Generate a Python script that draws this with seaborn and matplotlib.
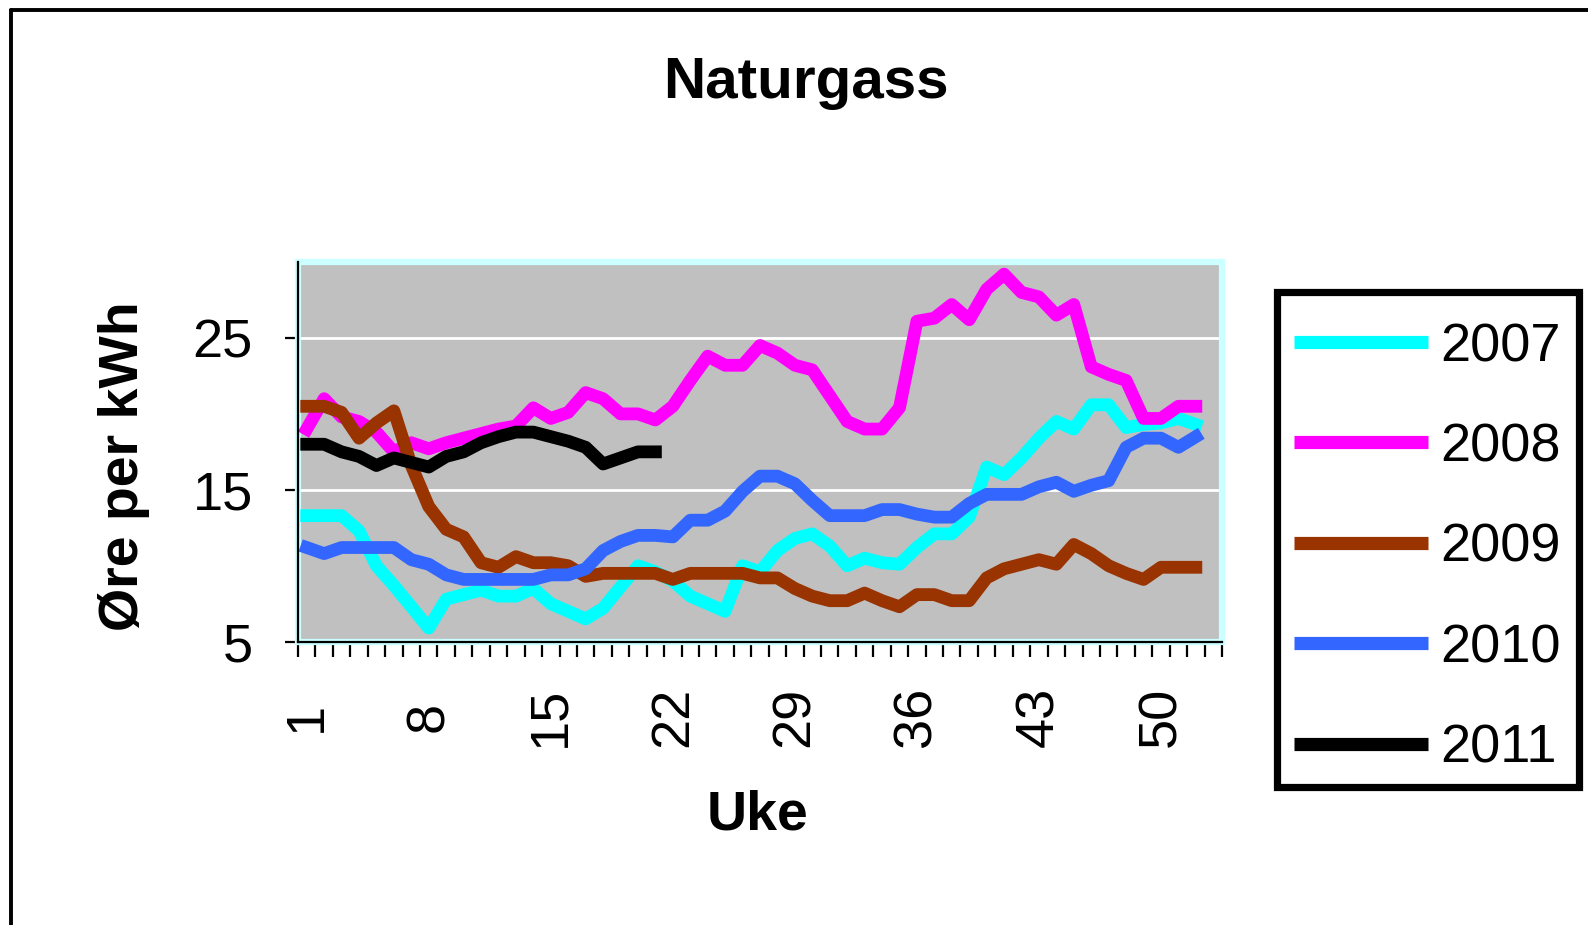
import matplotlib
matplotlib.use("Agg")
import matplotlib.pyplot as plt
from matplotlib.lines import Line2D
from matplotlib.patches import Rectangle
import seaborn as sns
import pandas as pd
import numpy as np

# ---- data (øre per kWh, by week) ----
aar = ["2007", "2008", "2009", "2010", "2011"]
pris_2007 = [13.3, 13.3, 13.3, 12.3, 10.0, 8.7, 7.3, 5.9, 7.8, 8.1, 8.4, 8.0, 8.0, 8.5, 7.5, 7.0, 6.5,
             7.2, 8.6, 10.0, 9.6, 9.0, 8.0, 7.5, 7.0, 10.0, 9.6, 11.0, 11.8, 12.1, 11.3, 10.0, 10.5, 10.2,
             10.1, 11.2, 12.1, 12.1, 13.2, 16.5, 16.0, 17.1, 18.4, 19.5, 19.0, 20.6, 20.6, 19.1, 19.3,
             19.4, 19.7, 19.3]
pris_2008 = [19.0, 21.0, 19.8, 19.5, 18.8, 17.5, 18.1, 17.7, 18.1, 18.4, 18.7, 19.0, 19.2, 20.4, 19.7,
             20.1, 21.4, 21.0, 20.0, 20.0, 19.6, 20.5, 22.2, 23.8, 23.2, 23.2, 24.5, 24.0, 23.2, 22.9,
             21.2, 19.5, 19.0, 19.0, 20.4, 26.1, 26.3, 27.2, 26.2, 28.2, 29.2, 28.0, 27.7, 26.5, 27.2,
             23.1, 22.6, 22.2, 19.7, 19.7, 20.5, 20.5]
pris_2009 = [20.5, 20.5, 20.1, 18.4, 19.4, 20.2, 16.6, 13.9, 12.4, 11.9, 10.2, 9.9, 10.6, 10.2, 10.2,
             10.0, 9.3, 9.5, 9.5, 9.5, 9.5, 9.1, 9.5, 9.5, 9.5, 9.5, 9.2, 9.2, 8.5, 8.0, 7.7, 7.7, 8.2,
             7.7, 7.3, 8.1, 8.1, 7.7, 7.7, 9.2, 9.8, 10.1, 10.4, 10.1, 11.4, 10.8, 10.0, 9.5, 9.1, 9.9,
             9.9, 9.9]
pris_2010 = [11.2, 10.8, 11.2, 11.2, 11.2, 11.2, 10.4, 10.1, 9.4, 9.1, 9.1, 9.1, 9.1, 9.1, 9.4, 9.4,
             9.8, 11.0, 11.6, 12.0, 12.0, 11.9, 13.0, 13.0, 13.6, 14.9, 15.9, 15.9, 15.4, 14.3, 13.3,
             13.3, 13.3, 13.7, 13.7, 13.4, 13.2, 13.2, 14.1, 14.7, 14.7, 14.7, 15.2, 15.5, 14.9, 15.3,
             15.6, 17.8, 18.4, 18.4, 17.8, 18.5]
pris_2011 = [18.0, 18.0, 17.5, 17.2, 16.6, 17.1, 16.8, 16.5, 17.2, 17.5, 18.1, 18.5, 18.8, 18.8, 18.5,
             18.2, 17.8, 16.7, 17.1, 17.5, 17.5]
antall_uker = 53
ukeetiketter = ["1", "8", "15", "22", "29", "36", "43", "50"]
farger = ["#00FFFF", "#FF00FF", "#993300", "#3366FF", "#000000"]

serier = [pris_2007, pris_2008, pris_2009, pris_2010, pris_2011]
rows = []
for a, s in zip(aar, serier):
    for i, v in enumerate(s):
        rows.append({"Uke": i + 1, "Pris": v, "År": a})
df = pd.DataFrame(rows)

sns.set_style("white")
plt.rcParams["font.family"] = ["Liberation Sans", "DejaVu Sans"]
plt.rcParams["text.color"] = "black"
plt.rcParams["axes.labelcolor"] = "black"
plt.rcParams["xtick.color"] = "black"
plt.rcParams["ytick.color"] = "black"

fig = plt.figure(figsize=(15.88, 9.25), dpi=100)
W, H = 1588, 925
L, R, B, T = 298, 1222, 641.7, 262
ax = fig.add_axes([L / W, 1 - B / H, (R - L) / W, (B - T) / H])
ax.set_facecolor("#C0C0C0")

sns.lineplot(data=df, x="Uke", y="Pris", hue="År", hue_order=aar,
             palette=dict(zip(aar, farger)), linewidth=9.2, ax=ax,
             solid_capstyle="projecting", solid_joinstyle="round")

ax.set_xlim(0.5, antall_uker + 0.5)
ax.set_ylim(5, 30)
ax.set_yticks([5, 15, 25])
ax.yaxis.grid(True, color="white", linewidth=2)
ax.xaxis.grid(False)
ax.set_axisbelow(True)

ax.set_xticks([int(t) for t in ukeetiketter])
ax.set_xticklabels(ukeetiketter, rotation=90, va="center", ha="center")
ax.set_xticks(np.arange(0.5, antall_uker + 1, 1), minor=True)
ax.tick_params(axis="x", which="major", length=0, pad=54, labelsize=39, labelcolor="black")
ax.tick_params(axis="x", which="minor", length=10.5, width=1.6, direction="out", color="black", bottom=True)
ax.tick_params(axis="y", which="major", length=9.5, width=1.6, direction="out", pad=23,
               labelsize=39, labelcolor="black", color="black", left=True)

for side in ["top", "right"]:
    ax.spines[side].set_visible(False)
for side in ["left", "bottom"]:
    ax.spines[side].set_color("black")
    ax.spines[side].set_linewidth(1.6)
    ax.spines[side].set_zorder(3)

ax.add_patch(Rectangle((0, 0), 1, 1, transform=ax.transAxes, fill=False,
                       edgecolor="#CCFFFF", linewidth=4.5, clip_on=False, zorder=1.5))

ax.set_xlabel("Uke", fontsize=40, fontweight="bold", color="black")
ax.xaxis.set_label_coords((757.5 - L) / (R - L), (B - 815) / (B - T))
ax.xaxis.label.set_va("center")
ax.set_ylabel("Øre per kWh", fontsize=40, fontweight="bold", color="black")
ax.yaxis.set_label_coords((124.5 - L) / (R - L), (B - 466) / (B - T))
ax.yaxis.label.set_va("center")
ax.set_title("Naturgass", fontsize=42, fontweight="bold", color="black",
             x=(806 - L) / (R - L), y=(B - 83) / (B - T), va="center", pad=0)

handles, labels = ax.get_legend_handles_labels()
leg = ax.legend(handles, labels, loc="upper left", bbox_to_anchor=(1294 / W, 1 - 322 / H),
                bbox_transform=fig.transFigure, frameon=False, fontsize=39,
                handlelength=2.48, handletextpad=0.22, labelspacing=0.93,
                borderpad=0, borderaxespad=0)
for t in leg.get_texts():
    t.set_color("black")
for ln in leg.get_lines():
    ln.set_linewidth(9.5)
    ln.set_solid_capstyle("butt")

# legend frame
fig.add_artist(Rectangle((1277 / W, 1 - 787 / H), (1579 - 1277) / W, (787 - 292) / H,
                         transform=fig.transFigure, fill=False, edgecolor="black",
                         linewidth=5.2, zorder=5))

# outer chart frame
fig.add_artist(Line2D([11 / W, 11 / W], [0, 1 - 10 / H], transform=fig.transFigure,
                      color="black", linewidth=2.8))
fig.add_artist(Line2D([11 / W, 1], [1 - 10 / H, 1 - 10 / H], transform=fig.transFigure,
                      color="black", linewidth=2.8))

fig.savefig("out.png", dpi=100, facecolor="white")
